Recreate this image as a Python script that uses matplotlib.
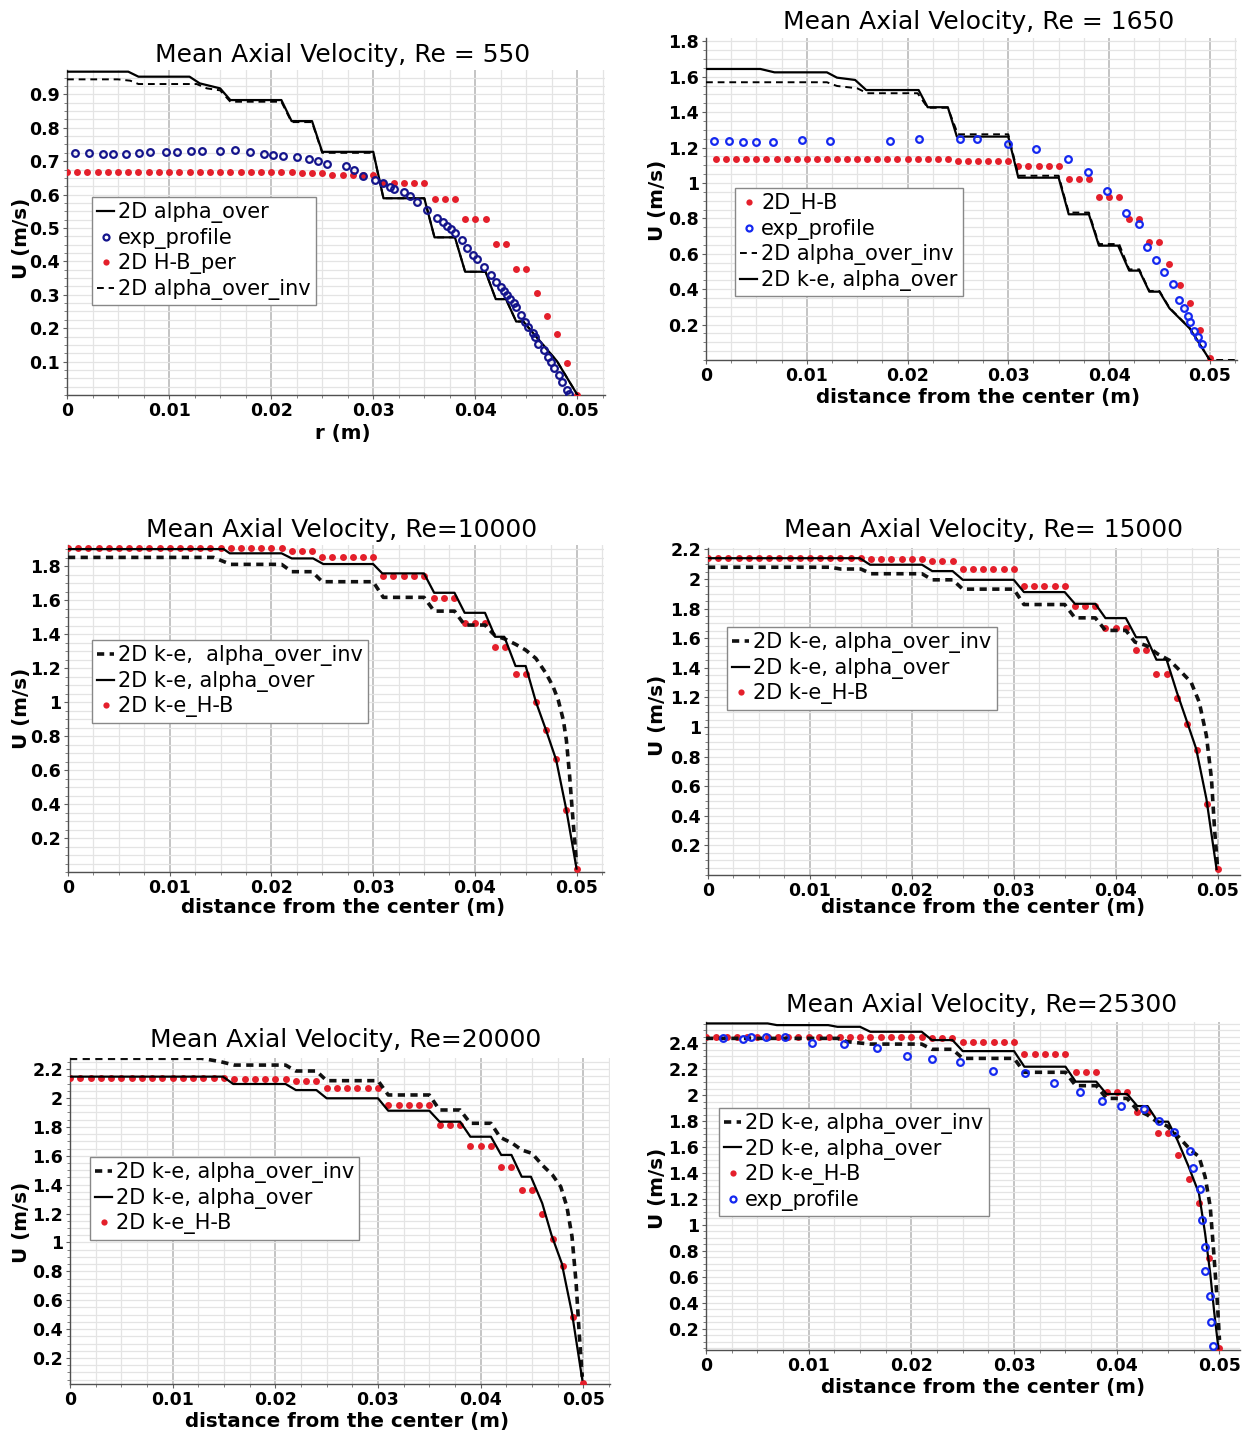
import matplotlib
matplotlib.use('Agg')
import matplotlib.pyplot as plt
from matplotlib.ticker import MultipleLocator

plt.rcParams['font.family'] = ['DejaVu Sans']

# ---------------- data ----------------
X_TICKS = [0, 0.01, 0.02, 0.03, 0.04, 0.05]
X_TICK_LABELS = ['0', '0.01', '0.02', '0.03', '0.04', '0.05']

HB_X = [0.000, 0.001, 0.002, 0.003, 0.004, 0.005, 0.006, 0.007, 0.008, 0.009,
        0.010, 0.011, 0.012, 0.013, 0.014, 0.015, 0.016, 0.017, 0.018, 0.019,
        0.020, 0.021, 0.022, 0.023, 0.024, 0.025, 0.026, 0.027, 0.028, 0.029,
        0.030, 0.031, 0.032, 0.033, 0.034, 0.035, 0.036, 0.037, 0.038, 0.039,
        0.040, 0.041, 0.042, 0.043, 0.044, 0.045, 0.046, 0.047, 0.048, 0.049,
        0.050]

# --- Re = 550 ---
P1_TITLE = 'Mean Axial Velocity, Re = 550'
P1_YTICKS = [0.1, 0.2, 0.3, 0.4, 0.5, 0.6, 0.7, 0.8, 0.9]
P1_YTICK_LABELS = ['0.1', '0.2', '0.3', '0.4', '0.5', '0.6', '0.7', '0.8', '0.9']
P1_SOLID_X = [0, 0.006, 0.007, 0.012, 0.013, 0.015, 0.016, 0.021, 0.022, 0.024, 0.025,
              0.030, 0.031, 0.035, 0.036, 0.038, 0.039, 0.041, 0.042, 0.043, 0.044,
              0.0447, 0.048, 0.050]
P1_SOLID_U = [0.968, 0.968, 0.953, 0.953, 0.933, 0.918, 0.883, 0.883, 0.820, 0.820, 0.728,
              0.728, 0.589, 0.589, 0.472, 0.472, 0.369, 0.369, 0.287, 0.287, 0.220,
              0.220, 0.101, 0.0]
P1_DASH_X = [0, 0.005, 0.0062, 0.007, 0.0127, 0.0137, 0.015, 0.016, 0.021, 0.022, 0.024,
             0.025, 0.030, 0.031, 0.035, 0.036, 0.038, 0.039, 0.041, 0.042, 0.043,
             0.044, 0.0447, 0.048, 0.050]
P1_DASH_U = [0.945, 0.945, 0.941, 0.931, 0.931, 0.918, 0.912, 0.878, 0.878, 0.817, 0.817,
             0.725, 0.725, 0.589, 0.589, 0.472, 0.472, 0.369, 0.369, 0.287, 0.287,
             0.220, 0.220, 0.101, 0.0]
P1_HB_U = [0.667, 0.667, 0.667, 0.667, 0.667, 0.667, 0.667, 0.667, 0.667, 0.667,
           0.667, 0.667, 0.667, 0.667, 0.667, 0.667, 0.667, 0.667, 0.667, 0.667,
           0.667, 0.667, 0.667, 0.664, 0.664, 0.664, 0.659, 0.659, 0.659, 0.659,
           0.659, 0.634, 0.634, 0.634, 0.634, 0.634, 0.587, 0.587, 0.587, 0.526,
           0.526, 0.526, 0.452, 0.452, 0.376, 0.376, 0.304, 0.237, 0.183, 0.097,
           0.000]
P1_EXP_X = [0.0008, 0.0022, 0.0035, 0.0045, 0.0058, 0.0071, 0.0081, 0.0097, 0.0108, 0.0121,
            0.0132, 0.0150, 0.0165, 0.0179, 0.0193, 0.0202, 0.0212, 0.0225, 0.0237, 0.0246,
            0.0255, 0.0273, 0.0281, 0.0290, 0.0302, 0.0310, 0.0316, 0.0320, 0.0330, 0.0336,
            0.0343, 0.0353, 0.0362, 0.0368, 0.0372, 0.0376, 0.0380, 0.0387, 0.0392, 0.0398,
            0.0402, 0.0408, 0.0415, 0.0420, 0.0425, 0.0428, 0.0431, 0.0434, 0.0438, 0.0440,
            0.0445, 0.0449, 0.0452, 0.0456, 0.0458, 0.0461, 0.0467, 0.0471, 0.0474, 0.0477,
            0.0482, 0.0485, 0.0490, 0.0492]
P1_EXP_U = [0.725, 0.724, 0.722, 0.722, 0.722, 0.725, 0.728, 0.728, 0.728, 0.731,
            0.731, 0.730, 0.734, 0.727, 0.722, 0.720, 0.715, 0.712, 0.707, 0.700,
            0.692, 0.686, 0.674, 0.657, 0.644, 0.634, 0.624, 0.617, 0.607, 0.596,
            0.579, 0.554, 0.531, 0.519, 0.506, 0.496, 0.486, 0.464, 0.441, 0.419,
            0.407, 0.384, 0.359, 0.339, 0.324, 0.312, 0.299, 0.286, 0.274, 0.264,
            0.240, 0.220, 0.205, 0.187, 0.175, 0.153, 0.135, 0.115, 0.100, 0.080,
            0.060, 0.040, 0.015, 0.003]

# --- Re = 1650 ---
P2_TITLE = 'Mean Axial Velocity, Re = 1650'
P2_YTICKS = [0.2, 0.4, 0.6, 0.8, 1.0, 1.2, 1.4, 1.6, 1.8]
P2_YTICK_LABELS = ['0.2', '0.4', '0.6', '0.8', '1', '1.2', '1.4', '1.6', '1.8']
P2_SOLID_X = [0, 0.0054, 0.0068, 0.012, 0.013, 0.0148, 0.0159, 0.0211, 0.022, 0.024, 0.0249,
              0.030, 0.031, 0.035, 0.036, 0.038, 0.039, 0.0409, 0.042, 0.043, 0.044,
              0.045, 0.046, 0.048, 0.050]
P2_SOLID_U = [1.644, 1.644, 1.625, 1.625, 1.595, 1.582, 1.525, 1.525, 1.428, 1.428, 1.262,
              1.262, 1.030, 1.030, 0.823, 0.823, 0.646, 0.646, 0.505, 0.505, 0.386,
              0.386, 0.292, 0.179, 0.0]
P2_DASH_X = [0, 0.012, 0.013, 0.015, 0.016, 0.021, 0.022, 0.024, 0.025, 0.030, 0.031,
             0.035, 0.036, 0.038, 0.039, 0.041, 0.042, 0.043, 0.044, 0.045, 0.046,
             0.048, 0.050, 0.0527]
P2_DASH_U = [1.569, 1.569, 1.548, 1.535, 1.507, 1.507, 1.425, 1.425, 1.275, 1.275, 1.041,
             1.041, 0.833, 0.833, 0.655, 0.655, 0.512, 0.512, 0.390, 0.390, 0.295,
             0.181, 0.0, 0.0]
P2_HB_U = [1.136, 1.136, 1.136, 1.136, 1.136, 1.136, 1.136, 1.136, 1.136, 1.136,
           1.136, 1.136, 1.136, 1.136, 1.136, 1.136, 1.136, 1.136, 1.136, 1.136,
           1.136, 1.136, 1.136, 1.136, 1.126, 1.126, 1.126, 1.126, 1.126, 1.126,
           1.096, 1.096, 1.096, 1.096, 1.096, 1.023, 1.023, 1.023, 0.923, 0.923,
           0.923, 0.797, 0.797, 0.669, 0.669, 0.541, 0.424, 0.324, 0.169, 0.009]
P2_EXP_X = [0.0008, 0.0023, 0.0037, 0.0050, 0.0066, 0.0095, 0.0123, 0.0183, 0.0211, 0.0252,
            0.0269, 0.0300, 0.0328, 0.0359, 0.0379, 0.0398, 0.0417, 0.0430, 0.0438, 0.0447,
            0.0455, 0.0463, 0.0469, 0.0474, 0.0478, 0.0480, 0.0484, 0.0488, 0.0492]
P2_EXP_U = [1.237, 1.239, 1.233, 1.233, 1.233, 1.241, 1.239, 1.237, 1.247, 1.249,
            1.247, 1.220, 1.190, 1.134, 1.064, 0.957, 0.829, 0.768, 0.637, 0.565,
            0.495, 0.429, 0.339, 0.292, 0.250, 0.216, 0.166, 0.132, 0.090]

# --- Re = 10000 ---
P3_TITLE = 'Mean Axial Velocity, Re=10000'
P3_YTICKS = [0.2, 0.4, 0.6, 0.8, 1.0, 1.2, 1.4, 1.6, 1.8]
P3_YTICK_LABELS = ['0.2', '0.4', '0.6', '0.8', '1', '1.2', '1.4', '1.6', '1.8']
P3_SOLID_X = [0, 0.0153, 0.0159, 0.021, 0.022, 0.0241, 0.0251, 0.030, 0.0309, 0.035, 0.036,
              0.038, 0.039, 0.041, 0.042, 0.0429, 0.044, 0.045, 0.046, 0.047, 0.048,
              0.049, 0.050]
P3_SOLID_U = [1.900, 1.900, 1.875, 1.875, 1.845, 1.845, 1.812, 1.812, 1.757, 1.757, 1.643,
              1.643, 1.525, 1.525, 1.384, 1.384, 1.212, 1.212, 1.002, 0.835, 0.659,
              0.365, 0.02]
P3_DASH_X = [0, 0.0143, 0.016, 0.021, 0.022, 0.024, 0.025, 0.030, 0.031, 0.035, 0.036,
             0.038, 0.039, 0.041, 0.0415, 0.042, 0.043, 0.044, 0.045, 0.046, 0.047,
             0.0477, 0.0482, 0.0487, 0.049, 0.0493, 0.0496, 0.050]
P3_DASH_U = [1.851, 1.851, 1.810, 1.810, 1.767, 1.767, 1.708, 1.708, 1.616, 1.616, 1.535,
             1.535, 1.453, 1.453, 1.42, 1.39, 1.37, 1.34, 1.306, 1.257, 1.169,
             1.09, 1.012, 0.894, 0.776, 0.58, 0.345, 0.05]
P3_HB_U = [1.904, 1.904, 1.904, 1.904, 1.904, 1.904, 1.904, 1.904, 1.904, 1.904,
           1.904, 1.904, 1.904, 1.904, 1.904, 1.904, 1.904, 1.904, 1.904, 1.904,
           1.904, 1.904, 1.890, 1.890, 1.890, 1.851, 1.851, 1.851, 1.851, 1.851,
           1.851, 1.743, 1.743, 1.743, 1.743, 1.743, 1.610, 1.610, 1.610, 1.468,
           1.468, 1.468, 1.322, 1.322, 1.165, 1.165, 1.002, 0.835, 0.663, 0.365,
           0.020]

# --- Re = 15000 ---
P4_TITLE = 'Mean Axial Velocity, Re= 15000'
P4_YTICKS = [0.2, 0.4, 0.6, 0.8, 1.0, 1.2, 1.4, 1.6, 1.8, 2.0, 2.2]
P4_YTICK_LABELS = ['0.2', '0.4', '0.6', '0.8', '1', '1.2', '1.4', '1.6', '1.8', '2', '2.2']
P4_SOLID_X = [0, 0.0149, 0.0159, 0.021, 0.022, 0.024, 0.025, 0.030, 0.031, 0.035, 0.036,
              0.038, 0.039, 0.041, 0.042, 0.043, 0.044, 0.045, 0.0460, 0.0469, 0.0479,
              0.0489, 0.0499]
P4_SOLID_U = [2.141, 2.141, 2.097, 2.097, 2.054, 2.054, 1.995, 1.995, 1.912, 1.912, 1.833,
              1.833, 1.736, 1.736, 1.607, 1.607, 1.455, 1.455, 1.236, 1.056, 0.853,
              0.516, 0.04]
P4_DASH_X = [0, 0.012, 0.013, 0.015, 0.016, 0.021, 0.022, 0.024, 0.025, 0.030, 0.031,
             0.035, 0.036, 0.038, 0.039, 0.041, 0.0419, 0.043, 0.0441, 0.0453, 0.0463,
             0.0474, 0.0482, 0.0489, 0.0494, 0.0497, 0.0500]
P4_DASH_U = [2.080, 2.080, 2.068, 2.068, 2.036, 2.036, 1.995, 1.995, 1.932, 1.932, 1.828,
             1.828, 1.738, 1.738, 1.653, 1.653, 1.574, 1.551, 1.495, 1.450, 1.382,
             1.303, 1.168, 0.943, 0.651, 0.313, 0.05]
P4_HB_U = [2.144, 2.144, 2.144, 2.144, 2.144, 2.144, 2.144, 2.144, 2.144, 2.144,
           2.144, 2.144, 2.144, 2.144, 2.144, 2.144, 2.137, 2.137, 2.137, 2.137,
           2.137, 2.137, 2.124, 2.124, 2.124, 2.070, 2.070, 2.070, 2.070, 2.070,
           2.070, 1.952, 1.952, 1.952, 1.952, 1.952, 1.817, 1.817, 1.817, 1.671,
           1.671, 1.671, 1.522, 1.522, 1.360, 1.360, 1.198, 1.022, 0.847, 0.482,
           0.040]

# --- Re = 20000 ---
P5_TITLE = 'Mean Axial Velocity, Re=20000'
P5_YTICKS = [0.2, 0.4, 0.6, 0.8, 1.0, 1.2, 1.4, 1.6, 1.8, 2.0, 2.2]
P5_YTICK_LABELS = ['0.2', '0.4', '0.6', '0.8', '1', '1.2', '1.4', '1.6', '1.8', '2', '2.2']
P5_SOLID_X = [0, 0.0149, 0.0159, 0.021, 0.022, 0.024, 0.025, 0.030, 0.031, 0.035, 0.036,
              0.038, 0.039, 0.041, 0.042, 0.043, 0.044, 0.0449, 0.0460, 0.0469, 0.0479,
              0.0489, 0.0499]
P5_SOLID_U = [2.148, 2.148, 2.097, 2.097, 2.055, 2.055, 1.998, 1.998, 1.912, 1.912, 1.836,
              1.836, 1.732, 1.732, 1.606, 1.606, 1.455, 1.455, 1.271, 1.052, 0.856,
              0.510, 0.05]
P5_DASH_X = [0, 0.0128, 0.0147, 0.016, 0.021, 0.022, 0.024, 0.025, 0.030, 0.031, 0.035,
             0.036, 0.038, 0.039, 0.041, 0.0419, 0.0431, 0.0440, 0.0450, 0.0460, 0.0470,
             0.0478, 0.0484, 0.0489, 0.0493, 0.0496, 0.0499]
P5_DASH_U = [2.275, 2.275, 2.251, 2.228, 2.228, 2.187, 2.187, 2.120, 2.120, 2.021, 2.021,
             1.917, 1.917, 1.825, 1.825, 1.728, 1.686, 1.640, 1.617, 1.536, 1.467,
             1.386, 1.248, 1.040, 0.718, 0.372, 0.07]
P5_HB_U = [2.141, 2.141, 2.141, 2.141, 2.141, 2.141, 2.141, 2.141, 2.141, 2.141,
           2.141, 2.141, 2.141, 2.141, 2.141, 2.141, 2.135, 2.135, 2.135, 2.135,
           2.135, 2.135, 2.118, 2.118, 2.118, 2.072, 2.072, 2.072, 2.072, 2.072,
           2.072, 1.952, 1.952, 1.952, 1.952, 1.952, 1.813, 1.813, 1.813, 1.668,
           1.668, 1.668, 1.520, 1.520, 1.363, 1.363, 1.197, 1.024, 0.840, 0.487,
           0.030]

# --- Re = 25300 ---
P6_TITLE = 'Mean Axial Velocity, Re=25300'
P6_YTICKS = [0.2, 0.4, 0.6, 0.8, 1.0, 1.2, 1.4, 1.6, 1.8, 2.0, 2.2, 2.4]
P6_YTICK_LABELS = ['0.2', '0.4', '0.6', '0.8', '1', '1.2', '1.4', '1.6', '1.8', '2', '2.2', '2.4']
P6_SOLID_X = [0, 0.006, 0.0069, 0.0119, 0.0128, 0.015, 0.016, 0.021, 0.022, 0.024, 0.025,
              0.030, 0.031, 0.035, 0.036, 0.038, 0.039, 0.041, 0.042, 0.043, 0.044,
              0.045, 0.0459, 0.0470, 0.0480, 0.0486, 0.0491, 0.0495, 0.0499]
P6_SOLID_U = [2.551, 2.551, 2.538, 2.538, 2.525, 2.525, 2.487, 2.487, 2.423, 2.423, 2.338,
              2.338, 2.218, 2.218, 2.103, 2.103, 2.008, 2.008, 1.915, 1.915, 1.795,
              1.795, 1.654, 1.449, 1.244, 0.936, 0.628, 0.321, 0.05]
P6_DASH_X = [0, 0.0128, 0.0138, 0.016, 0.021, 0.022, 0.024, 0.025, 0.030, 0.031, 0.035,
             0.036, 0.038, 0.039, 0.041, 0.0420, 0.0430, 0.0439, 0.0449, 0.0460, 0.0472,
             0.0480, 0.0486, 0.0491, 0.0494, 0.0498, 0.0500]
P6_DASH_U = [2.436, 2.436, 2.410, 2.392, 2.392, 2.352, 2.352, 2.282, 2.282, 2.175, 2.175,
             2.072, 2.072, 1.974, 1.974, 1.885, 1.846, 1.795, 1.762, 1.679, 1.577,
             1.526, 1.372, 1.141, 0.833, 0.398, 0.115]
P6_HB_U = [2.444, 2.444, 2.444, 2.444, 2.444, 2.444, 2.444, 2.444, 2.444, 2.444,
           2.444, 2.444, 2.444, 2.444, 2.444, 2.444, 2.444, 2.444, 2.444, 2.444,
           2.444, 2.444, 2.436, 2.436, 2.436, 2.410, 2.410, 2.410, 2.410, 2.410,
           2.410, 2.313, 2.313, 2.313, 2.313, 2.313, 2.179, 2.179, 2.179, 2.026,
           2.026, 2.026, 1.872, 1.872, 1.705, 1.705, 1.538, 1.354, 1.167, 0.744,
           0.050]
P6_EXP_X = [0.0017, 0.0036, 0.0044, 0.0058, 0.0077, 0.0103, 0.0134, 0.0167, 0.0196, 0.0220,
            0.0247, 0.0279, 0.0311, 0.0339, 0.0364, 0.0386, 0.0404, 0.0427, 0.0441, 0.0456,
            0.0471, 0.0474, 0.0481, 0.0483, 0.0486, 0.0486, 0.0491, 0.0492, 0.0494]
P6_EXP_U = [2.436, 2.431, 2.449, 2.449, 2.449, 2.397, 2.390, 2.359, 2.302, 2.277,
            2.251, 2.185, 2.167, 2.095, 2.026, 1.956, 1.918, 1.890, 1.800, 1.718,
            1.569, 1.436, 1.274, 1.038, 0.833, 0.649, 0.454, 0.256, 0.072]

# ---------------- layout / style ----------------
W, H = 1243, 1437
fig = plt.figure(figsize=(W / 100, H / 100), dpi=100)
fig.patch.set_facecolor('white')

RED = '#e41f2b'
NAVY = '#14148c'
BLUE = '#1428f0'


def fx(px):
    return px / W


def fy(py):
    return 1 - py / H


def make_axes(box, xmax, ylim, yticks, ylabels, ymajor):
    l, t, r, b = box
    ax = fig.add_axes([fx(l), fy(b), (r - l) / W, (b - t) / H])
    ax.set_xlim(0, xmax)
    ax.set_ylim(*ylim)
    ax.set_xticks(X_TICKS)
    ax.set_xticklabels(X_TICK_LABELS, fontsize=12.5, fontweight='bold')
    ax.xaxis.set_minor_locator(MultipleLocator(0.0025))
    ax.set_yticks(yticks)
    ax.set_yticklabels(ylabels, fontsize=12.5, fontweight='bold')
    ax.yaxis.set_minor_locator(MultipleLocator(ymajor / 4))
    ax.grid(which='minor', axis='both', color='#e4e4e4', lw=0.9)
    ax.grid(which='major', axis='y', color='#e4e4e4', lw=0.9)
    ax.grid(which='major', axis='x', color='#b4b4b4', lw=1.1)
    ax.set_axisbelow(True)
    for s in ('top', 'right'):
        ax.spines[s].set_visible(False)
    for s in ('left', 'bottom'):
        ax.spines[s].set_color('#505050')
        ax.spines[s].set_linewidth(1.0)
    ax.tick_params(which='major', direction='out', length=3, width=0.8,
                   color='#606060', pad=2)
    ax.tick_params(which='minor', direction='out', length=2.5, width=0.7,
                   color='#808080')
    return ax


def add_texts(title_xy, title, xlabel_xy, xlabel, ylabel_xy):
    fig.text(fx(title_xy[0]), fy(title_xy[1]), title, ha='center', va='center',
             fontsize=18)
    fig.text(fx(xlabel_xy[0]), fy(xlabel_xy[1]), xlabel, ha='center', va='center',
             fontsize=14.3, fontweight='bold')
    fig.text(fx(ylabel_xy[0]), fy(ylabel_xy[1]), 'U (m/s)', ha='center', va='center',
             fontsize=14.3, fontweight='bold', rotation=90)


def add_legend(ax, handles, corner):
    leg = ax.legend(handles=handles, loc='upper left',
                    bbox_to_anchor=(fx(corner[0]), fy(corner[1])),
                    bbox_transform=fig.transFigure, frameon=True, fancybox=False,
                    framealpha=1, edgecolor='#888888', borderpad=0.25,
                    handlelength=0.8, handletextpad=0.2, labelspacing=0.22,
                    borderaxespad=0, prop={'size': 15}, markerscale=0.9)
    leg.get_frame().set_linewidth(1.0)
    leg.set_zorder(10)


def thin_dash(ax, x, u, label):
    return ax.plot(x, u, color='black', lw=1.4, ls=(0, (3.5, 2.5)), label=label,
                   zorder=4)[0]


def thick_dash(ax, x, u, label):
    return ax.plot(x, u, color='#111111', lw=2.6, ls=(0, (2.0, 1.5)),
                   dash_capstyle='butt', label=label, zorder=4)[0]


def solid(ax, x, u, label):
    return ax.plot(x, u, color='black', lw=1.6, label=label, zorder=5)[0]


def red_dots(ax, x, u, label):
    return ax.plot(x, u, ls='none', marker='o', ms=5.0, mfc=RED, mec=RED, mew=0,
                   label=label, zorder=3)[0]


def circles(ax, x, u, color, label):
    return ax.plot(x, u, ls='none', marker='o', ms=4.8, mfc='none', mec=color, mew=1.6,
                   label=label, zorder=6)[0]


# ---- Panel 1: Re = 550 ----
ax1 = make_axes((67, 70, 605, 395), 0.0527, (0, 0.973), P1_YTICKS, P1_YTICK_LABELS, 0.1)
h_hb = red_dots(ax1, HB_X, P1_HB_U, '2D H-B_per')
h_exp = circles(ax1, P1_EXP_X, P1_EXP_U, NAVY, 'exp_profile')
h_d = thin_dash(ax1, P1_DASH_X, P1_DASH_U, '2D alpha_over_inv')
h_s = solid(ax1, P1_SOLID_X, P1_SOLID_U, '2D alpha_over')
add_legend(ax1, [h_s, h_exp, h_hb, h_d], (92, 197))
add_texts((343, 55), P1_TITLE, (343, 433), 'r (m)', (22, 238))

# ---- Panel 2: Re = 1650 ----
ax2 = make_axes((706, 38, 1237, 360), 0.0527, (0, 1.819), P2_YTICKS, P2_YTICK_LABELS, 0.2)
h_hb = red_dots(ax2, HB_X[1:], P2_HB_U, '2D_H-B')
h_exp = circles(ax2, P2_EXP_X, P2_EXP_U, BLUE, 'exp_profile')
h_d = thin_dash(ax2, P2_DASH_X, P2_DASH_U, '2D alpha_over_inv')
h_s = solid(ax2, P2_SOLID_X, P2_SOLID_U, '2D k-e, alpha_over')
add_legend(ax2, [h_hb, h_exp, h_d, h_s], (735, 188))
add_texts((979, 22), P2_TITLE, (978, 397), 'distance from the center (m)', (658, 200))

# ---- Panel 3: Re = 10000 ----
ax3 = make_axes((68, 545, 604, 872), 0.0527, (0, 1.924), P3_YTICKS, P3_YTICK_LABELS, 0.2)
h_hb = red_dots(ax3, HB_X, P3_HB_U, '2D k-e_H-B')
h_d = thick_dash(ax3, P3_DASH_X, P3_DASH_U, '2D k-e,  alpha_over_inv')
h_s = solid(ax3, P3_SOLID_X, P3_SOLID_U, '2D k-e, alpha_over')
add_legend(ax3, [h_d, h_s, h_hb], (92, 640))
add_texts((342, 530), P3_TITLE, (343, 908), 'distance from the center (m)', (22, 708))

# ---- Panel 4: Re = 15000 ----
ax4 = make_axes((708, 548, 1240, 875), 0.0522, (0, 2.21), P4_YTICKS, P4_YTICK_LABELS, 0.2)
h_hb = red_dots(ax4, HB_X, P4_HB_U, '2D k-e_H-B')
h_d = thick_dash(ax4, P4_DASH_X, P4_DASH_U, '2D k-e, alpha_over_inv')
h_s = solid(ax4, P4_SOLID_X, P4_SOLID_U, '2D k-e, alpha_over')
add_legend(ax4, [h_d, h_s, h_hb], (727, 627))
add_texts((983, 530), P4_TITLE, (983, 908), 'distance from the center (m)', (658, 715))

# ---- Panel 5: Re = 20000 ----
ax5 = make_axes((70, 1058, 610, 1384), 0.0526, (0.02, 2.277), P5_YTICKS, P5_YTICK_LABELS, 0.2)
h_hb = red_dots(ax5, HB_X, P5_HB_U, '2D k-e_H-B')
h_d = thick_dash(ax5, P5_DASH_X, P5_DASH_U, '2D k-e, alpha_over_inv')
h_s = solid(ax5, P5_SOLID_X, P5_SOLID_U, '2D k-e, alpha_over')
add_legend(ax5, [h_d, h_s, h_hb], (90, 1157))
add_texts((346, 1040), P5_TITLE, (347, 1421), 'distance from the center (m)', (22, 1222))

# ---- Panel 6: Re = 25300 ----
ax6 = make_axes((706, 1022, 1240, 1350), 0.052, (0.038, 2.562), P6_YTICKS, P6_YTICK_LABELS, 0.2)
h_hb = red_dots(ax6, HB_X, P6_HB_U, '2D k-e_H-B')
h_exp = circles(ax6, P6_EXP_X, P6_EXP_U, BLUE, 'exp_profile')
h_d = thick_dash(ax6, P6_DASH_X, P6_DASH_U, '2D k-e, alpha_over_inv')
h_s = solid(ax6, P6_SOLID_X, P6_SOLID_U, '2D k-e, alpha_over')
add_legend(ax6, [h_d, h_s, h_hb, h_exp], (719, 1108))
add_texts((982, 1005), P6_TITLE, (983, 1388), 'distance from the center (m)', (658, 1188))

fig.savefig('out.png', dpi=100, facecolor='white')
